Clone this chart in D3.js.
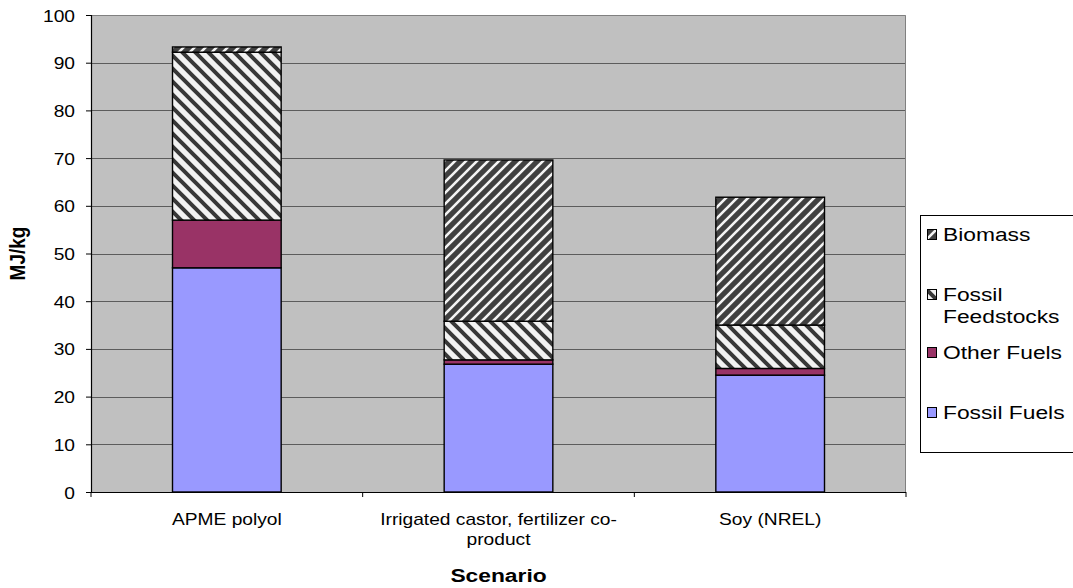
<!DOCTYPE html>
<html>
<head>
<meta charset="utf-8">
<script src="https://cdn.jsdelivr.net/npm/d3@7/dist/d3.min.js"></script>
<style>
  html, body { margin: 0; padding: 0; background: #ffffff; }
  svg { display: block; }
  text { font-family: "Liberation Sans", Arial, sans-serif; fill: #000; }
</style>
</head>
<body>
<svg id="chart" width="1073" height="588"></svg>
<script>
// Energy use per kg of polyol, by scenario (MJ/kg)
const categories = ["APME polyol", "Irrigated castor, fertilizer co-product", "Soy (NREL)"];
const fossilFuels = [47.0, 26.8, 24.5];
const otherFuels = [10.0, 0.9, 1.4];
const fossilFeedstocks = [35.2, 8.1, 9.1];
const biomass = [1.1, 33.8, 26.8];
const yTicks = [0, 10, 20, 30, 40, 50, 60, 70, 80, 90, 100];
const seriesNames = ["Fossil Fuels", "Other Fuels", "Fossil Feedstocks", "Biomass"];
const legendOrder = ["Biomass", "Fossil Feedstocks", "Other Fuels", "Fossil Fuels"];
const legendLines = { "Fossil Feedstocks": ["Fossil", "Feedstocks"] };

const SX = 1.2; // horizontal text stretch
const svg = d3.select("#chart");
const margin = { left: 91, right: 167, top: 15, bottom: 96 };
const W = 1073, H = 588;
const plotW = W - margin.left - margin.right;
const plotH = H - margin.top - margin.bottom;

const rows = categories.map((c, i) => ({
  category: c,
  "Fossil Fuels": fossilFuels[i],
  "Other Fuels": otherFuels[i],
  "Fossil Feedstocks": fossilFeedstocks[i],
  "Biomass": biomass[i]
}));
const stacked = d3.stack().keys(seriesNames)(rows);

const x = d3.scaleBand().domain(categories)
  .range([margin.left, margin.left + plotW])
  .paddingInner(0.6).paddingOuter(0.3);
const y = d3.scaleLinear().domain([0, 100]).range([margin.top + plotH, margin.top]);

// fill patterns
const defs = svg.append("defs");
function stripes(id, size, bg, fg, width, dir) {
  const p = defs.append("pattern").attr("id", id)
    .attr("patternUnits", "userSpaceOnUse").attr("width", size).attr("height", size);
  p.append("rect").attr("width", size).attr("height", size).attr("fill", bg);
  const s = size, h = size / 2;
  const d = dir === "up"
    ? `M0,${s} L${s},0 M${-h},${h} L${h},${-h} M${h},${s + h} L${s + h},${h}`
    : `M0,0 L${s},${s} M${-h},${h} L${h},${s + h} M${h},${-h} L${s + h},${h}`;
  p.append("path").attr("d", d).attr("stroke", fg).attr("stroke-width", width);
}
stripes("pBiomass", 11, "#404040", "#f4f4f4", 2.6, "up");
stripes("pFeed", 13, "#f2f2f2", "#383838", 4, "down");

const fills = {
  "Fossil Fuels": "#9999ff",
  "Other Fuels": "#993366",
  "Fossil Feedstocks": "url(#pFeed)",
  "Biomass": "url(#pBiomass)"
};

// plot background
svg.append("rect")
  .attr("x", margin.left).attr("y", margin.top)
  .attr("width", plotW).attr("height", plotH)
  .attr("fill", "#c0c0c0");

// gridlines
svg.append("g").selectAll("line").data(yTicks.filter(t => t > 0 && t < 100)).join("line")
  .attr("x1", margin.left).attr("x2", margin.left + plotW)
  .attr("y1", d => Math.round(y(d)) + 0.5).attr("y2", d => Math.round(y(d)) + 0.5)
  .attr("stroke", "#5c5c5c").attr("stroke-width", 1);

// plot border (top and right)
svg.append("path")
  .attr("d", `M${margin.left},${margin.top + 0.5} H${margin.left + plotW - 0.5} V${margin.top + plotH}`)
  .attr("fill", "none").attr("stroke", "#808080").attr("stroke-width", 1);

// stacked bars
svg.append("g").selectAll("g").data(stacked).join("g")
  .attr("fill", d => fills[d.key])
  .selectAll("rect").data(d => d).join("rect")
  .attr("x", d => x(d.data.category))
  .attr("width", x.bandwidth())
  .attr("y", d => y(d[1]))
  .attr("height", d => y(d[0]) - y(d[1]))
  .attr("stroke", "#000").attr("stroke-width", 1.4);

// y axis
const yAxis = svg.append("g").attr("transform", `translate(${margin.left},0)`)
  .call(d3.axisLeft(y).tickValues(yTicks).tickSize(5).tickPadding(0).tickFormat(d3.format("d")));
yAxis.select(".domain").attr("stroke", "#000").attr("stroke-width", 1.2);
yAxis.selectAll(".tick line").attr("stroke", "#000");
yAxis.selectAll(".tick text").each(function (d) {
  const t = d3.select(this);
  t.attr("x", null).attr("dy", null).attr("text-anchor", "end")
    .attr("font-size", 16).attr("font-family", null)
    .attr("transform", `translate(-16,6) scale(${SX},1)`);
});
yAxis.attr("font-family", null).attr("font-size", null);

// x axis
const xAxisY = margin.top + plotH;
const xg = svg.append("g");
xg.append("line").attr("x1", margin.left).attr("x2", margin.left + plotW)
  .attr("y1", xAxisY + 0.5).attr("y2", xAxisY + 0.5).attr("stroke", "#000").attr("stroke-width", 1.2);
const boundaries = d3.range(categories.length + 1).map(i => margin.left + i * x.step());
xg.selectAll("line.tk").data(boundaries).join("line").attr("class", "tk")
  .attr("x1", d => d).attr("x2", d => d)
  .attr("y1", xAxisY).attr("y2", xAxisY + 5).attr("stroke", "#000");

// category labels, wrapped to the band width
const maxW = x.step() * 0.92;
categories.forEach(c => {
  const cx = x(c) + x.bandwidth() / 2;
  const tokens = c.match(/[^\s-]+-?\s*/g);
  const probe = svg.append("text").attr("font-size", 16);
  const lines = [];
  let cur = "";
  tokens.forEach(tok => {
    const trial = cur + tok;
    probe.text(trial.trim());
    if (cur && probe.node().getComputedTextLength() * SX > maxW) {
      lines.push(cur.trim());
      cur = tok;
    } else cur = trial;
  });
  if (cur) lines.push(cur.trim());
  probe.remove();
  lines.forEach((ln, i) => {
    svg.append("text").attr("font-size", 16).attr("text-anchor", "middle")
      .attr("transform", `translate(${cx},${525 + i * 20}) scale(${SX},1)`)
      .text(ln);
  });
});

// axis titles
svg.append("text").attr("font-size", 19).attr("font-weight", "bold").attr("text-anchor", "middle")
  .attr("transform", `translate(${margin.left + plotW / 2},582) scale(${SX},1)`)
  .text("Scenario");
svg.append("text").attr("font-size", 19).attr("font-weight", "bold").attr("text-anchor", "middle")
  .attr("transform", `translate(25,${margin.top + plotH / 2}) scale(${SX},1) rotate(-90)`)
  .text("MJ/kg");

// legend
const lg = svg.append("g");
lg.append("rect").attr("x", 920.5).attr("y", 215.5).attr("width", 200).attr("height", 237)
  .attr("fill", "#fff").attr("stroke", "#000").attr("stroke-width", 1);
const legendY = { "Biomass": 241, "Fossil Feedstocks": 301, "Other Fuels": 359, "Fossil Fuels": 419 };
legendOrder.forEach(name => {
  const by = legendY[name];
  lg.append("rect").attr("x", 927.5).attr("y", by - 11.5).attr("width", 9).attr("height", 10)
    .attr("fill", fills[name]).attr("stroke", "#000").attr("stroke-width", 1);
  const lines = legendLines[name] || [name];
  lines.forEach((ln, i) => {
    lg.append("text").attr("font-size", 19)
      .attr("transform", `translate(943,${by + i * 22}) scale(${SX},1)`)
      .text(ln);
  });
});
</script>
</body>
</html>
